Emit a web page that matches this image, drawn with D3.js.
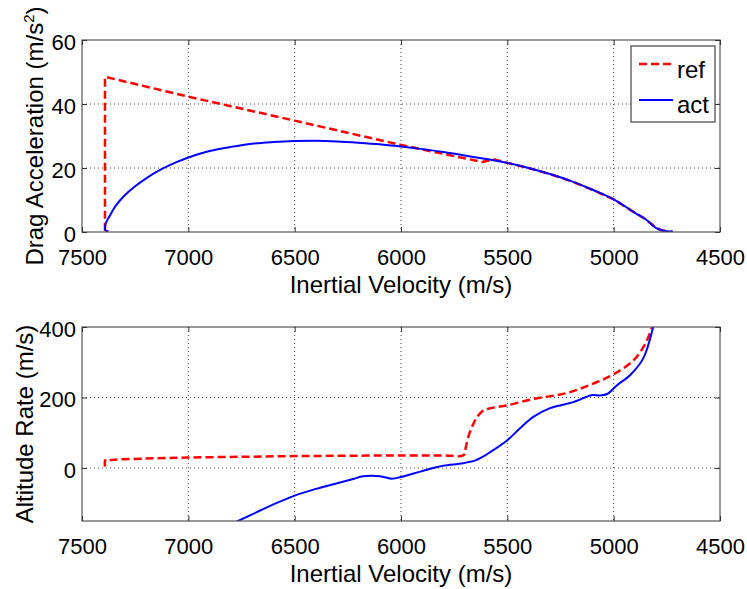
<!DOCTYPE html>
<html>
<head>
<meta charset="utf-8">
<script src="https://cdn.jsdelivr.net/npm/d3@7"></script>
<style>
  html,body{margin:0;padding:0;background:#fff}
  svg{display:block;font-family:"Liberation Sans",Arial,sans-serif}
</style>
</head>
<body>
<div id="chart"></div>
<script>
// ── data ──
const xTicks = [7500, 7000, 6500, 6000, 5500, 5000, 4500];
const accTicks = [0, 20, 40, 60];
const rateTicks = [0, 200, 400];

// drag acceleration, reference profile
const accRefV = [7392, 7392, 7000, 6500, 6000, 5620, 5560, 5500, 5400, 5300, 5200, 5100, 5000, 4900, 4850, 4800, 4775, 4740];
const accRefA = [0.4, 48.5, 42.3, 34.8, 27.2, 21.9, 22.7, 21.6, 20.0, 18.1, 15.9, 13.2, 10.2, 6.0, 4.0, 1.3, 0.5, 0.5];
// drag acceleration, actual
const accActV = [7376, 7390, 7389, 7370, 7340, 7300, 7250, 7200, 7133, 7050, 7000, 6900, 6800, 6700, 6600, 6500, 6400, 6300, 6200, 6100, 6000, 5900, 5800, 5700, 5600, 5500, 5400, 5300, 5200, 5100, 5000, 4900, 4850, 4800, 4770, 4750, 4722];
const accActA = [0.2, 0.5, 2.5, 5.0, 8.3, 11.4, 14.3, 16.7, 19.4, 22.0, 23.3, 25.3, 26.6, 27.6, 28.1, 28.4, 28.5, 28.3, 27.9, 27.4, 26.7, 25.9, 25.0, 23.9, 22.8, 21.6, 20.0, 18.1, 15.9, 13.2, 10.2, 6.0, 4.0, 1.2, 0.5, 0.2, 0.2];

// altitude rate, reference profile
const rateRefV = [7392, 7392, 7386, 7370, 7200, 7000, 6750, 6500, 6250, 6000, 5800, 5705, 5695, 5680, 5660, 5642, 5620, 5595, 5560, 5500, 5378, 5219, 5078, 5000, 4906, 4850, 4819, 4800];
const rateRefH = [4, 22, 18, 22, 27, 30, 32, 34, 35, 36, 36, 37, 60, 95, 125, 145, 160, 167, 172, 178, 196, 213, 244, 266, 306, 354, 400, 440];
// altitude rate, actual
const rateActV = [6800, 6766, 6700, 6600, 6500, 6400, 6300, 6225, 6178, 6098, 6042, 6000, 5910, 5849, 5800, 5708, 5650, 5628, 5581, 5500, 5440, 5378, 5299, 5190, 5101, 5064, 5031, 4984, 4922, 4861, 4814, 4800];
const rateActH = [-160, -150, -131, -103, -78, -59, -43, -31, -23, -23, -30, -25, -10, 0, 7, 14, 22, 28, 45, 79, 113, 145, 170, 187, 207, 206, 210, 235, 264, 311, 400, 440];

const legendKeys = ['ref', 'act'];
const RED = '#ff0000', BLUE = '#0000ff';

// ── layout ──
const W = 747, H = 589;
const svg = d3.select('#chart').append('svg').attr('width', W).attr('height', H);
const x = d3.scaleLinear().domain([7500, 4500]).range([82, 720]);
const smooth = d3.curveCatmullRom.alpha(0.5);

function panel(id, top, bottom, yDomain, yTicks, yLabel, labelX, series){
  const y = d3.scaleLinear().domain(yDomain).range([bottom, top]);
  const g = svg.append('g');

  g.append('clipPath').attr('id', id).append('rect')
    .attr('x', 82).attr('y', top).attr('width', 638).attr('height', bottom - top);

  // dotted grid
  xTicks.slice(1, -1).forEach(v => {
    g.append('line').attr('x1', x(v)).attr('x2', x(v)).attr('y1', top).attr('y2', bottom)
      .attr('stroke', '#444').attr('stroke-dasharray', '1,3');
  });
  yTicks.forEach(v => {
    if (y(v) <= top + 0.5 || y(v) >= bottom - 0.5) return;
    g.append('line').attr('x1', 82).attr('x2', 720).attr('y1', y(v)).attr('y2', y(v))
      .attr('stroke', '#444').attr('stroke-dasharray', '1,3');
  });

  // lines
  series.forEach(s => {
    const line = d3.line().x(d => x(d[0])).y(d => y(d[1])).curve(s.curve || d3.curveLinear);
    g.append('path').attr('clip-path', `url(#${id})`)
      .attr('d', line(s.v.map((v, i) => [v, s.y[i]])))
      .attr('fill', 'none').attr('stroke', s.c).attr('stroke-width', s.w)
      .attr('stroke-dasharray', s.dash || null).attr('stroke-linejoin', 'round');
  });

  // box + inward ticks
  g.append('rect').attr('x', 82).attr('y', top).attr('width', 638).attr('height', bottom - top)
    .attr('fill', 'none').attr('stroke', '#555').attr('stroke-width', 1.2);

  const style = a => {
    a.select('.domain').remove();
    a.selectAll('.tick line').attr('stroke', '#333');
    a.selectAll('text').attr('fill', '#000').attr('font-size', '22px')
      .attr('font-family', '"Liberation Sans", Arial, sans-serif');
  };
  g.append('g').attr('transform', `translate(0,${bottom})`)
    .call(d3.axisBottom(x).tickValues(xTicks).tickFormat(d3.format('d')).tickSize(-5).tickPadding(17))
    .call(style);
  g.append('g').attr('transform', `translate(0,${top})`)
    .call(d3.axisTop(x).tickValues(xTicks).tickFormat('').tickSize(-5))
    .call(style);
  g.append('g').attr('transform', 'translate(82,0)')
    .call(d3.axisLeft(y).tickValues(yTicks).tickFormat(d3.format('d')).tickSize(-5).tickPadding(6))
    .call(style).selectAll('text').attr('dy', '0.42em');
  g.append('g').attr('transform', 'translate(720,0)')
    .call(d3.axisRight(y).tickValues(yTicks).tickFormat('').tickSize(-5))
    .call(style);

  // axis titles
  g.append('text').attr('x', 401).attr('y', bottom + 61).attr('text-anchor', 'middle')
    .attr('font-size', '24px').attr('fill', '#000').text('Inertial Velocity (m/s)');
  const yl = g.append('text').attr('transform', `translate(${labelX},${(top + bottom) / 2}) rotate(-90)`)
    .attr('text-anchor', 'middle').attr('font-size', '24px').attr('fill', '#000');
  yLabel(yl);
  return y;
}

panel('clipTop', 40, 232, [0, 60], accTicks, t => {
  t.append('tspan').text('Drag Acceleration (m/s');
  t.append('tspan').attr('font-size', '15px').attr('dy', '-9').text('2');
  t.append('tspan').attr('dy', '9').text(')');
}, 43, [
  {v: accRefV, y: accRefA, c: RED, w: 2.5, dash: '8,4'},
  {v: accActV, y: accActA, c: BLUE, w: 2, curve: smooth}
]);

panel('clipBot', 327, 521, [-150, 400], rateTicks, t => {
  t.text('Altitude Rate (m/s)');
}, 33, [
  {v: rateRefV, y: rateRefH, c: RED, w: 2.5, dash: '8,4', curve: smooth},
  {v: rateActV, y: rateActH, c: BLUE, w: 2, curve: smooth}
]);

// ── legend ──
const lg = svg.append('g');
lg.append('rect').attr('x', 631).attr('y', 46).attr('width', 84).attr('height', 76)
  .attr('fill', '#fff').attr('stroke', '#444').attr('stroke-width', 1.2);
legendKeys.forEach((k, i) => {
  const ly = 64 + i * 36;
  lg.append('line').attr('x1', 639).attr('x2', 673).attr('y1', ly).attr('y2', ly)
    .attr('stroke', i ? BLUE : RED).attr('stroke-width', i ? 2 : 2.5)
    .attr('stroke-dasharray', i ? null : '8,4');
  lg.append('text').attr('x', 677).attr('y', 78 + i * 35).attr('font-size', '24px')
    .attr('fill', '#000').text(k);
});
</script>
</body>
</html>
